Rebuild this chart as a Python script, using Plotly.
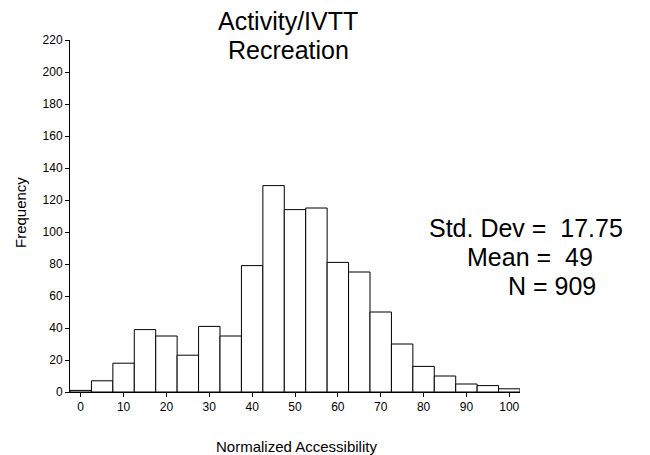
import plotly.graph_objects as go

bin_centers = [0, 5, 10, 15, 20, 25, 30, 35, 40, 45, 50, 55, 60, 65, 70, 75, 80, 85, 90, 95, 100]
frequencies = [1, 7, 18, 39, 35, 23, 41, 35, 79, 129, 114, 115, 81, 75, 50, 30, 16, 10, 5, 4, 2]
x_ticks = [0, 10, 20, 30, 40, 50, 60, 70, 80, 90, 100]
y_ticks = [0, 20, 40, 60, 80, 100, 120, 140, 160, 180, 200, 220]
title_lines = ["Activity/IVTT", "Recreation"]
stats_lines = ["Std. Dev =\u00a0\u00a017.75", "Mean =\u00a0\u00a049", "N = 909"]

FONT = "Liberation Sans, Arial, sans-serif"
W, H = 650, 455
L, R, T, B = 70, 130, 40, 63
pw, ph = W - L - R, H - T - B

def px(x):
    return (x - L) / pw

def py(y):
    return (H - B - y) / ph

fig = go.Figure()
fig.add_trace(go.Bar(
    x=bin_centers, y=frequencies, width=5,
    marker=dict(color="white", line=dict(color="black", width=1)),
    showlegend=False, hoverinfo="x+y",
))

ann = []
for txt, yc in zip(title_lines, [21, 50]):
    ann.append(dict(text=txt, x=px(288), y=py(yc), xref="paper", yref="paper",
                    xanchor="center", yanchor="middle", showarrow=False,
                    font=dict(family=FONT, size=25, color="black")))
for txt, xl, yc in zip(stats_lines, [427, 465, 506], [228, 257, 286]):
    ann.append(dict(text=txt, x=px(xl), y=py(yc), xref="paper", yref="paper",
                    xanchor="left", yanchor="middle", showarrow=False,
                    font=dict(family=FONT, size=25, color="black")))
ann.append(dict(text="Normalized Accessibility", x=px(296), y=py(446), xref="paper", yref="paper",
                xanchor="center", yanchor="middle", showarrow=False,
                font=dict(family=FONT, size=15, color="black")))
ann.append(dict(text="Frequency", x=px(20), y=py(213), xref="paper", yref="paper",
                xanchor="center", yanchor="middle", showarrow=False, textangle=-90,
                font=dict(family=FONT, size=15, color="black")))

fig.update_layout(
    width=W, height=H,
    margin=dict(l=L, r=R, t=T, b=B, pad=0),
    paper_bgcolor="white", plot_bgcolor="white",
    font=dict(family=FONT, size=12, color="black"),
    bargap=0,
    annotations=ann,
    xaxis=dict(range=[-2.5, 102.5], tickmode="array", tickvals=x_ticks,
               ticktext=[str(v) for v in x_ticks],
               showline=True, linecolor="black", linewidth=1, ticks="outside",
               ticklen=4, tickcolor="black", showgrid=False, zeroline=False,
               fixedrange=True),
    yaxis=dict(range=[0, 220], tickmode="array", tickvals=y_ticks,
               ticktext=[str(v) for v in y_ticks],
               showline=True, linecolor="black", linewidth=1, ticks="outside",
               ticklen=4, tickcolor="black", showgrid=False, zeroline=False,
               fixedrange=True),
)

fig.write_html(
    "out.html",
    config={"displayModeBar": False, "staticPlot": True},
    post_script="document.body.style.margin='0px';document.body.style.overflow='hidden';",
)
